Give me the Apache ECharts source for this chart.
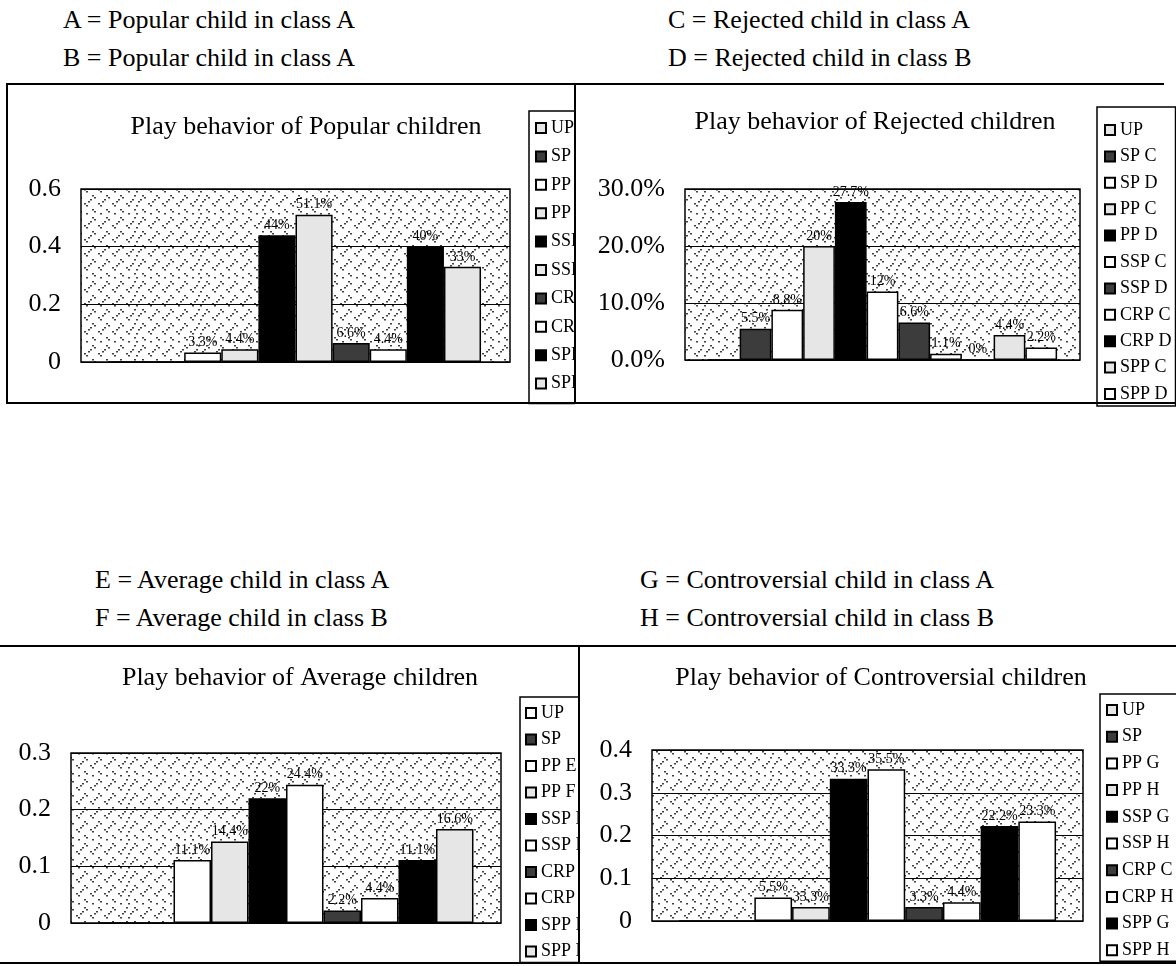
<!DOCTYPE html>
<html>
<head>
<meta charset="utf-8">
<script src="https://cdn.jsdelivr.net/npm/echarts@6/dist/echarts.min.js"></script>
<style>
  body { margin: 0; background: #fff; width: 1176px; height: 966px; position: relative; overflow: hidden; font-family: "Liberation Serif", serif; }
  .cap { position: absolute; font-size: 26px; line-height: 26px; white-space: nowrap; color: #000; }
  .ln { position: absolute; background: #000; z-index: 5; }
  .chart { position: absolute; }
</style>
</head>
<body>
<div class="cap" style="left:63px;top:7px">A = Popular child in class A</div>
<div class="cap" style="left:63px;top:45px">B = Popular child in class A</div>
<div class="cap" style="left:668px;top:7px">C = Rejected child in class A</div>
<div class="cap" style="left:668px;top:45px">D = Rejected child in class B</div>
<div class="cap" style="left:95px;top:567px">E = Average child in class A</div>
<div class="cap" style="left:95px;top:605px">F = Average child in class B</div>
<div class="cap" style="left:640px;top:567px">G = Controversial child in class A</div>
<div class="cap" style="left:640px;top:605px">H = Controversial child in class B</div>

<div id="c1" class="chart"></div>
<div id="c2" class="chart"></div>
<div id="c3" class="chart"></div>
<div id="c4" class="chart"></div>

<!-- panel frames -->
<div class="ln" style="left:7px;top:83px;width:1157px;height:2px"></div>
<div class="ln" style="left:7px;top:402px;width:1169px;height:2px"></div>
<div class="ln" style="left:6px;top:83px;width:2px;height:321px"></div>
<div class="ln" style="left:574px;top:83px;width:2px;height:321px"></div>
<div class="ln" style="left:0;top:645px;width:1176px;height:2px"></div>
<div class="ln" style="left:578px;top:645px;width:2px;height:319px"></div>
<div class="ln" style="left:0;top:962px;width:1176px;height:2px"></div>

<script>
// 네 패널 공통 — 범주 하나에 행동 유형별 막대를 나란히 붙여 그림
const popNames = ["UP", "SP", "PP A", "PP B", "SSP A", "SSP B", "CRP A", "CRP B", "SPP A", "SPP B"];
const popValues = [0, 0, 0.033, 0.044, 0.44, 0.511, 0.066, 0.044, 0.40, 0.33];
const popLabels = ["", "", "3.3%", "4.4%", "44%", "51.1%", "6.6%", "4.4%", "40%", "33%"];

const rejNames = ["UP", "SP C", "SP D", "PP C", "PP D", "SSP C", "SSP D", "CRP C", "CRP D", "SPP C", "SPP D"];
const rejValues = [0, 0.055, 0.088, 0.20, 0.277, 0.12, 0.066, 0.011, 0, 0.044, 0.022];
const rejLabels = ["", "5.5%", "8.8%", "20%", "27.7%", "12%", "6.6%", "1.1%", "0%", "4.4%", "2.2%"];

const avgNames = ["UP", "SP", "PP E", "PP F", "SSP E", "SSP F", "CRP E", "CRP F", "SPP E", "SPP F"];
const avgValues = [0, 0, 0.111, 0.144, 0.22, 0.244, 0.022, 0.044, 0.111, 0.166];
const avgLabels = ["", "", "11.1%", "14.4%", "22%", "24.4%", "2.2%", "4.4%", "11.1%", "16.6%"];

const conNames = ["UP", "SP", "PP G", "PP H", "SSP G", "SSP H", "CRP C", "CRP H", "SPP G", "SPP H"];
const conValues = [0, 0, 0.055, 0.033, 0.333, 0.355, 0.033, 0.044, 0.222, 0.233];
const conLabels = ["", "", "5.5%", "33.3%", "33.3%", "35.5%", "3.3%", "4.4%", "22.2%", "23.3%"];

const FONT = "Liberation Serif";
const FILL = { white: "#ffffff", black: "#000000", dark: "#3c3c3c", light: "#e6e6e6" };

// scanned-paper look for the plot area (fixed dot layout)
function speckle() {
  const c = document.createElement("canvas");
  c.width = 64; c.height = 64;
  const g = c.getContext("2d");
  g.fillStyle = "#fff";
  g.fillRect(0, 0, 64, 64);
  g.fillStyle = "#404040";
  for (let y = 0; y < 64; y += 2) {
    for (let x = 0; x < 64; x += 2) {
      if ((x * 5 + y * 11 + ((x * y) % 7)) % 7 === 0) g.fillRect(x, y, 2, 1.5);
    }
  }
  return c;
}
const bgPattern = { image: speckle(), repeat: "repeat" };

function draw(id, cfg) {
  const el = document.getElementById(id);
  const p = cfg.panel;
  Object.assign(el.style, { left: p.x + "px", top: p.y + "px", width: p.w + "px", height: p.h + "px" });
  const chart = echarts.init(el, null, { renderer: "canvas" });
  const lg = cfg.legend;

  chart.setOption({
    animation: false,
    graphic: [{
      type: "text",
      x: cfg.title.x - p.x,
      y: cfg.title.y - p.y,
      style: { text: cfg.title.text, font: `26px "${FONT}"`, fill: "#000", textAlign: "center", textVerticalAlign: "middle" },
    }],
    grid: {
      left: cfg.plot.x - p.x, top: cfg.plot.y - p.y, width: cfg.plot.w, height: cfg.plot.h,
      show: true, backgroundColor: bgPattern, borderColor: "#000", borderWidth: 1.5,
    },
    legend: {
      orient: "vertical",
      left: lg.x - p.x, top: lg.y - p.y,
      data: cfg.names,
      icon: "rect", itemWidth: 10, itemHeight: 10, itemGap: lg.gap,
      padding: lg.pad,
      borderColor: "#000", borderWidth: 1.5, backgroundColor: "#fff",
      selectedMode: false,
      textStyle: { fontFamily: FONT, fontSize: 18, lineHeight: 18, color: "#000" },
    },
    xAxis: { type: "category", data: [""], show: false },
    yAxis: {
      type: "value", min: 0, max: cfg.max, interval: cfg.step,
      axisLine: { show: false }, axisTick: { show: false },
      splitLine: { lineStyle: { color: "#000", width: 1 } },
      axisLabel: { fontFamily: FONT, fontSize: 26, color: "#000", margin: 20, formatter: cfg.tick },
    },
    series: cfg.names.map((n, i) => ({
      name: n,
      type: "bar",
      data: [cfg.values[i]],
      barGap: "0%",
      barCategoryGap: cfg.gap,
      itemStyle: { color: FILL[cfg.fills[i]], borderColor: "#000", borderWidth: 1.5 },
      label: {
        show: cfg.labels[i] !== "",
        position: "top", distance: 3,
        formatter: cfg.labels[i],
        fontFamily: FONT, fontSize: 14, color: "#000",
      },
    })),
  });
}

// panel boxes are taller than the frame so the vertical legend never wraps
draw("c1", {
  panel: { x: 8, y: 85, w: 567, h: 340 },
  plot: { x: 81, y: 189, w: 429, h: 173 },
  legend: { x: 529, y: 111, gap: 10.4, pad: [8, 4, 11, 6] },
  title: { x: 306, y: 127, text: "Play behavior of Popular children" },
  names: popNames, values: popValues, labels: popLabels,
  fills: ["light", "dark", "white", "light", "black", "light", "dark", "white", "black", "light"],
  max: 0.6, step: 0.2, gap: "13.5%",
  tick: (v) => String(+v.toFixed(1)),
});

draw("c2", {
  panel: { x: 576, y: 85, w: 600, h: 340 },
  plot: { x: 685, y: 189, w: 395, h: 171 },
  legend: { x: 1097, y: 107, gap: 8.4, pad: [14, 4, 3, 7] },
  title: { x: 875, y: 122, text: "Play behavior of Rejected children" },
  names: rejNames, values: rejValues, labels: rejLabels,
  fills: ["light", "dark", "white", "light", "black", "white", "dark", "white", "black", "light", "white"],
  max: 0.3, step: 0.1, gap: "11.6%",
  tick: (v) => (v * 100).toFixed(1) + "%",
});

draw("c3", {
  panel: { x: 0, y: 647, w: 578, h: 319 },
  plot: { x: 71, y: 753, w: 430, h: 170 },
  legend: { x: 520, y: 697, gap: 8.5, pad: [7, 4, 2, 5] },
  title: { x: 300, y: 678, text: "Play behavior of Average children" },
  names: avgNames, values: avgValues, labels: avgLabels,
  fills: ["white", "dark", "white", "light", "black", "white", "dark", "white", "black", "light"],
  max: 0.3, step: 0.1, gap: "12.8%",
  tick: (v) => String(+v.toFixed(1)),
});

draw("c4", {
  panel: { x: 580, y: 647, w: 596, h: 319 },
  plot: { x: 652, y: 750, w: 431, h: 171 },
  legend: { x: 1100, y: 694, gap: 8.7, pad: [7, 4, 2, 6] },
  title: { x: 881, y: 678, text: "Play behavior of Controversial children" },
  names: conNames, values: conValues, labels: conLabels,
  fills: ["light", "dark", "white", "light", "black", "white", "dark", "white", "black", "white"],
  max: 0.4, step: 0.1, gap: "12.5%",
  tick: (v) => String(+v.toFixed(1)),
});
</script>
</body>
</html>
